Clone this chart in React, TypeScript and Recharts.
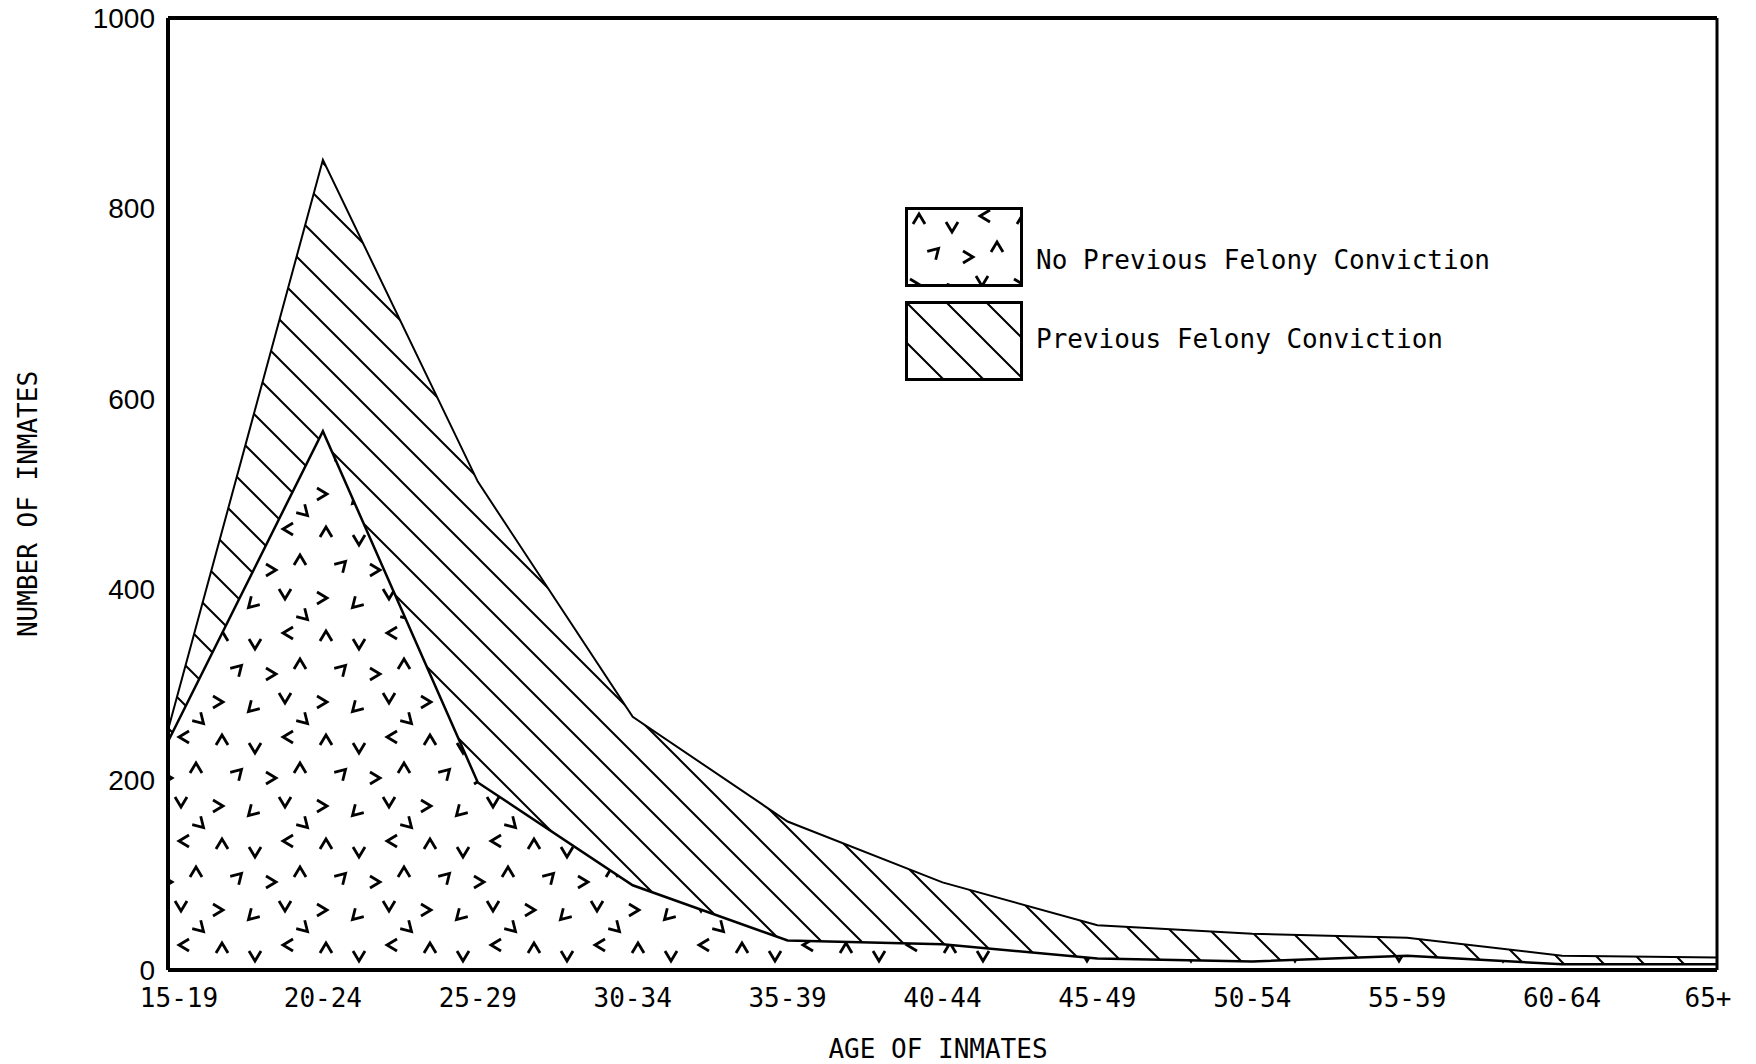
import { AreaChart, Area, XAxis, YAxis, Legend, Label, ReferenceLine } from 'recharts'

const AGES = ['15-19', '20-24', '25-29', '30-34', '35-39', '40-44', '45-49', '50-54', '55-59', '60-64', '65+']
const NO_PREVIOUS = [240, 566, 197, 89, 31, 27, 12, 9, 15, 6, 6]
const PREVIOUS = [12, 285, 316, 177, 125, 65, 35, 29, 19, 9, 7]
const Y_TICKS = [0, 200, 400, 600, 800, 1000]

const rows = AGES.map((age, i) => ({ age, noPrev: NO_PREVIOUS[i], prev: PREVIOUS[i] }))

const mono = '"DejaVu Sans Mono", monospace'
const sans = '"Liberation Sans", Arial, sans-serif'

// chevrons scattered over one tile, turned different ways
const MARKS = [
  { x: 14, y: 12, r: 0 }, { x: 47, y: 20, r: 180 }, { x: 80, y: 9, r: -90 },
  { x: 30, y: 45, r: 45 }, { x: 63, y: 50, r: 90 }, { x: 92, y: 40, r: 0 },
  { x: 10, y: 78, r: 90 }, { x: 44, y: 84, r: -135 }, { x: 77, y: 74, r: 180 },
  { x: 96, y: 96, r: 135 },
]

function DotsPattern({ id }: { id: string }) {
  return (
    <pattern id={id} width={104} height={104} patternUnits="userSpaceOnUse">
      {MARKS.map((m, i) => (
        <path key={i} d="M-6,5 L0,-5 L6,5" transform={`translate(${m.x},${m.y}) rotate(${m.r})`}
          fill="none" stroke="#000" strokeWidth={2.8} />
      ))}
    </pattern>
  )
}

function HatchPattern({ id }: { id: string }) {
  return (
    <pattern id={id} width={40} height={40} patternUnits="userSpaceOnUse">
      <path d="M0,0 L40,40 M-10,30 L10,50 M30,-10 L50,10" stroke="#000" strokeWidth={2} />
    </pattern>
  )
}

function AgeTick(props: any) {
  const { x, y, payload, index } = props
  const last = index === AGES.length - 1
  const dx = index === 0 ? 11 : last ? -9 : 0
  return (
    <text x={x + dx} y={y} dy="0.71em" textAnchor="middle" fill="#000" fontFamily={mono} fontSize={26}>
      {payload.value}
    </text>
  )
}

function LegendBox() {
  const items = [
    { label: 'No Previous Felony Conviction', fill: 'url(#lg-dots)', shift: 13 },
    { label: 'Previous Felony Conviction', fill: 'url(#lg-hatch)', shift: -2 },
  ]
  return (
    <div>
      <svg width={0} height={0} style={{ position: 'absolute' }}>
        <defs>
          <DotsPattern id="lg-dots" />
          <HatchPattern id="lg-hatch" />
        </defs>
      </svg>
      {items.map((it, i) => (
        <div key={it.label} style={{ display: 'flex', alignItems: 'center', marginBottom: i === 0 ? 14 : 0 }}>
          <svg width={118} height={80} style={{ flexShrink: 0 }}>
            <rect x={1.5} y={1.5} width={115} height={77} fill={it.fill} stroke="#000" strokeWidth={3} />
          </svg>
          <span style={{ fontFamily: mono, fontSize: 26, marginLeft: 13, color: '#000', whiteSpace: 'nowrap',
            position: 'relative', top: it.shift }}>{it.label}</span>
        </div>
      ))}
    </div>
  )
}

export default function App() {
  return (
    <div style={{ position: 'absolute', left: 0, top: 0, background: '#fff' }}>
      <AreaChart width={1756} height={1064} data={rows} margin={{ top: 18, right: 39, bottom: 0, left: 0 }}>
        <defs>
          <DotsPattern id="dots" />
          <HatchPattern id="hatch" />
        </defs>
        <XAxis dataKey="age" height={94} tickLine={false} tickSize={0} tickMargin={19} interval={0}
          axisLine={{ stroke: '#000', strokeWidth: 4 }} tick={<AgeTick />}>
          <Label content={() => (
            <text x={938} y={1049} textAnchor="middle" dominantBaseline="central"
              style={{ fill: '#000', fontFamily: mono, fontSize: 26 }}>AGE OF INMATES</text>
          )} />
        </XAxis>
        <YAxis width={168} domain={[0, 1000]} ticks={Y_TICKS} tickLine={false} tickSize={0} tickMargin={13}
          axisLine={{ stroke: '#000', strokeWidth: 4 }}
          tick={{ fill: '#000', fontFamily: sans, fontSize: 28 }}>
          <Label content={() => (
            <text x={28} y={504} transform="rotate(-90 28 504)" textAnchor="middle" dominantBaseline="central"
              style={{ fill: '#000', fontFamily: mono, fontSize: 26 }}>NUMBER OF INMATES</text>
          )} />
        </YAxis>
        <Legend layout="horizontal" verticalAlign="middle" align="center" content={() => <LegendBox />}
          wrapperStyle={{ left: 905, top: 207, width: 700 }} />
        <Area type="linear" dataKey="noPrev" stackId="a" stroke="#000" strokeWidth={2.5}
          fill="url(#dots)" fillOpacity={1} isAnimationActive={false} />
        <Area type="linear" dataKey="prev" stackId="a" stroke="#000" strokeWidth={2}
          fill="url(#hatch)" fillOpacity={1} isAnimationActive={false} />
        <ReferenceLine y={1000} stroke="#000" strokeWidth={4} />
        <ReferenceLine x="65+" stroke="#000" strokeWidth={3} />
      </AreaChart>
    </div>
  )
}
